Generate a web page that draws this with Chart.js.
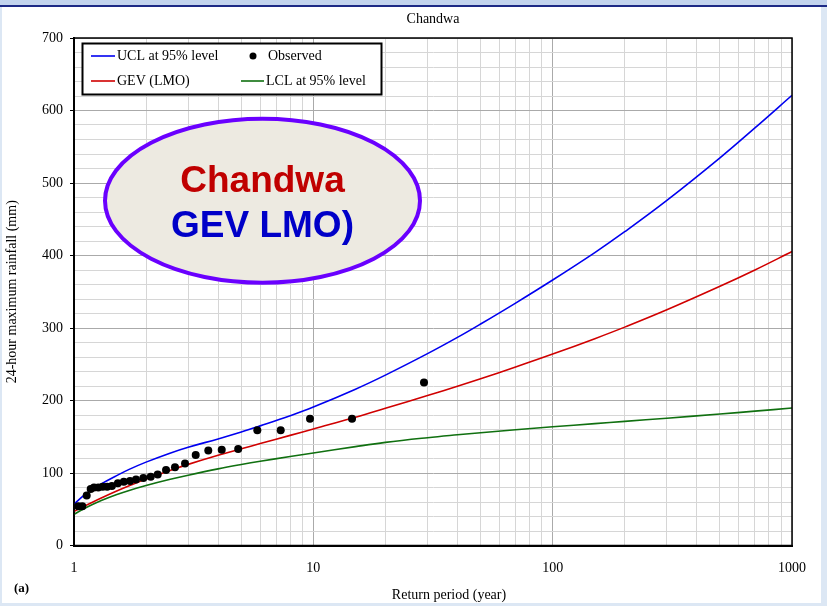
<!DOCTYPE html>
<html>
<head>
<meta charset="utf-8">
<script src="https://cdn.jsdelivr.net/npm/chart.js@4.4.1/dist/chart.umd.min.js"></script>
<style>
  html, body { margin: 0; padding: 0; background: #dce7f4; }
  #wrap { width: 827px; height: 606px; position: relative; }
  canvas { display: block; }
</style>
</head>
<body>
<div id="wrap"><canvas id="c" width="827" height="606"></canvas></div>
<script>
// ---------- data ----------
const curvePeriods = [1, 1.1, 1.2, 1.3, 1.5, 1.7, 2, 2.5, 3, 4, 5, 6, 8, 10, 15, 20, 30, 40, 50, 70, 100, 150, 200, 300, 500, 700, 1000];
const uclValues    = [57, 69, 78, 85, 96, 105, 115, 127, 135.5, 147, 156.5, 165, 179, 191, 215.6, 235, 264.6, 287, 305.5, 334.4, 366.2, 404, 432.8, 476, 534.7, 576, 621];
const gevValues    = [47, 54, 60.1, 65.5, 74.7, 82.3, 91.6, 103.2, 111.9, 124.4, 133.4, 140.6, 151.9, 160.8, 176.9, 189.2, 206.8, 219.8, 230.1, 246.2, 264, 285.3, 301.2, 325.1, 357.5, 380, 405.4];
const lclValues    = [43, 50.7, 56.9, 62, 70, 76, 82.8, 91, 97, 105.7, 111.7, 116.2, 122.7, 127.6, 136.4, 142.2, 148.7, 152.7, 155.6, 159.7, 163.7, 168.1, 171.2, 175.6, 181.4, 185.3, 189.6];

const obsPeriods = [1.042, 1.083, 1.130, 1.174, 1.212, 1.263, 1.318, 1.375, 1.440, 1.525, 1.615, 1.714, 1.816, 1.949, 2.092, 2.237, 2.424, 2.642, 2.910, 3.225, 3.640, 4.142, 4.853, 5.834, 7.306, 9.685, 14.51, 29.0];
const obsRainfall = [54, 54, 69, 78, 80, 80, 81, 81, 82, 86, 88, 89, 91, 93, 95, 98, 104, 108, 113, 125, 131, 132, 133, 159, 159, 175, 175, 225];

const xMajorTicks = [1, 10, 100, 1000];
const xAllTicks = [1,2,3,4,5,6,7,8,9,10,20,30,40,50,60,70,80,90,100,200,300,400,500,600,700,800,900,1000];
const seriesLabels = ['UCL at 95% level', 'GEV (LMO)', 'LCL at 95% level', 'Observed'];
const chartTitle = 'Chandwa';
const xTitle = 'Return period (year)';
const yTitle = '24-hour maximum rainfall (mm)';
const panelTag = '(a)';
const bubbleLine1 = 'Chandwa';
const bubbleLine2 = 'GEV LMO)';

// ---------- build ----------
const pts = (xs, ys) => xs.map((x, i) => ({ x: x, y: ys[i] }));
const SERIF = '"Liberation Serif", "Times New Roman", serif';
const SANS = '"Liberation Sans", Arial, sans-serif';

const bgPlugin = {
  id: 'bg',
  beforeDraw(chart) {
    const ctx = chart.ctx;
    ctx.save();
    ctx.fillStyle = '#dce7f4';
    ctx.fillRect(0, 0, 827, 606);
    ctx.fillStyle = '#c3d4ee';
    ctx.fillRect(0, 0, 827, 5);
    ctx.fillStyle = '#1d2a86';
    ctx.fillRect(0, 5, 827, 2);
    ctx.fillStyle = '#ffffff';
    ctx.fillRect(2, 7, 819, 596);
    ctx.restore();
  }
};

const decorPlugin = {
  id: 'decor',
  afterDraw(chart) {
    const ctx = chart.ctx;
    const a = chart.chartArea;
    ctx.save();
    // frame
    ctx.strokeStyle = '#000';
    ctx.lineWidth = 1.5;
    ctx.strokeRect(a.left, a.top, a.right - a.left, a.bottom - a.top);

    // titles
    ctx.fillStyle = '#000';
    ctx.font = '14px ' + SERIF;
    ctx.textAlign = 'center';
    ctx.textBaseline = 'alphabetic';
    ctx.fillText(chartTitle, (a.left + a.right) / 2, 23);
    ctx.fillText(xTitle, 449, 599);
    ctx.save();
    ctx.translate(16, (a.top + a.bottom) / 2);
    ctx.rotate(-Math.PI / 2);
    ctx.fillText(yTitle, 0, 0);
    ctx.restore();
    ctx.font = 'bold 13px ' + SERIF;
    ctx.textAlign = 'left';
    ctx.fillText(panelTag, 14, 592);

    // legend box
    const ds = chart.data.datasets;
    const lx = 82.5, ly = 43.5, lw = 299, lh = 51;
    ctx.fillStyle = '#fff';
    ctx.fillRect(lx, ly, lw, lh);
    ctx.strokeStyle = '#000';
    ctx.lineWidth = 2;
    ctx.strokeRect(lx, ly, lw, lh);
    ctx.font = '14px ' + SERIF;
    ctx.textBaseline = 'middle';
    const items = [
      { d: ds[1], x: 91, y: 56, kind: 'line', w: 24 },
      { d: ds[0], x: 248, y: 56, kind: 'dot', w: 18 },
      { d: ds[2], x: 91, y: 81, kind: 'line', w: 24 },
      { d: ds[3], x: 241, y: 81, kind: 'line', w: 23 }
    ];
    items.forEach(it => {
      if (it.kind === 'line') {
        ctx.strokeStyle = it.d.borderColor;
        ctx.lineWidth = 1.6;
        ctx.beginPath();
        ctx.moveTo(it.x, it.y);
        ctx.lineTo(it.x + it.w, it.y);
        ctx.stroke();
      } else {
        ctx.fillStyle = it.d.backgroundColor;
        ctx.beginPath();
        ctx.arc(it.x + 5, it.y, 3.5, 0, Math.PI * 2);
        ctx.fill();
      }
      ctx.fillStyle = '#000';
      ctx.fillText(it.d.label, it.x + it.w + 2, it.y);
    });

    // bubble
    ctx.beginPath();
    ctx.ellipse(262.5, 200.7, 157.5, 82, 0, 0, Math.PI * 2);
    ctx.fillStyle = '#edeae1';
    ctx.fill();
    ctx.lineWidth = 4;
    ctx.strokeStyle = '#6a00ff';
    ctx.stroke();
    ctx.textAlign = 'center';
    ctx.textBaseline = 'alphabetic';
    ctx.font = 'bold 37px ' + SANS;
    ctx.fillStyle = '#c00000';
    ctx.fillText(bubbleLine1, 262.5, 191.5);
    ctx.fillStyle = '#0000c8';
    ctx.fillText(bubbleLine2, 262.5, 236.5);
    ctx.restore();
  }
};

const gridColor = (major) => major ? '#aaaaaa' : '#d6d6d6';
const lineStyle = { borderWidth: 1.6, pointRadius: 0, fill: false, tension: 0.4, order: 1 };

new Chart(document.getElementById('c'), {
  type: 'line',
  data: {
    datasets: [
      { label: seriesLabels[3], type: 'scatter', data: pts(obsPeriods, obsRainfall), backgroundColor: '#000', borderColor: '#000', pointRadius: 4, pointBorderWidth: 0, showLine: false, order: 0 },
      Object.assign({ label: seriesLabels[0], data: pts(curvePeriods, uclValues), borderColor: '#0000f0' }, lineStyle),
      Object.assign({ label: seriesLabels[1], data: pts(curvePeriods, gevValues), borderColor: '#d00000' }, lineStyle),
      Object.assign({ label: seriesLabels[2], data: pts(curvePeriods, lclValues), borderColor: '#107010' }, lineStyle)
    ]
  },
  options: {
    responsive: false,
    animation: false,
    devicePixelRatio: 1,
    layout: { padding: { top: 38, right: 35, left: 0, bottom: 0 } },
    plugins: { legend: { display: false }, title: { display: false }, tooltip: { enabled: false } },
    scales: {
      x: {
        type: 'logarithmic',
        min: 1, max: 1000,
        afterFit(s) { s.height = 60.5; },
        afterBuildTicks(s) { s.ticks = xAllTicks.map(v => ({ value: v, major: xMajorTicks.includes(v) })); },
        ticks: {
          autoSkip: false, maxRotation: 0, minRotation: 0, padding: 6,
          color: '#000', font: { family: SERIF, size: 14 },
          callback: (v) => xMajorTicks.includes(v) ? String(v) : ''
        },
        grid: {
          color: (c) => gridColor(c.tick && xMajorTicks.includes(c.tick.value)),
          lineWidth: 1, tickLength: 8, tickColor: 'rgba(0,0,0,0)'
        },
        border: { color: '#000', width: 2 }
      },
      y: {
        type: 'linear',
        min: 0, max: 700,
        afterFit(s) { s.width = 74; },
        ticks: {
          stepSize: 20, padding: 7, autoSkip: false,
          color: '#000', font: { family: SERIF, size: 14 },
          callback: (v) => v % 100 === 0 ? String(v) : ''
        },
        grid: {
          color: (c) => gridColor(c.tick && c.tick.value % 100 === 0),
          lineWidth: 1, tickLength: 4,
          tickColor: (c) => (c.tick && c.tick.value % 100 === 0) ? '#000' : 'rgba(0,0,0,0)'
        },
        border: { color: '#000', width: 2 }
      }
    }
  },
  plugins: [bgPlugin, decorPlugin]
});
</script>
</body>
</html>
